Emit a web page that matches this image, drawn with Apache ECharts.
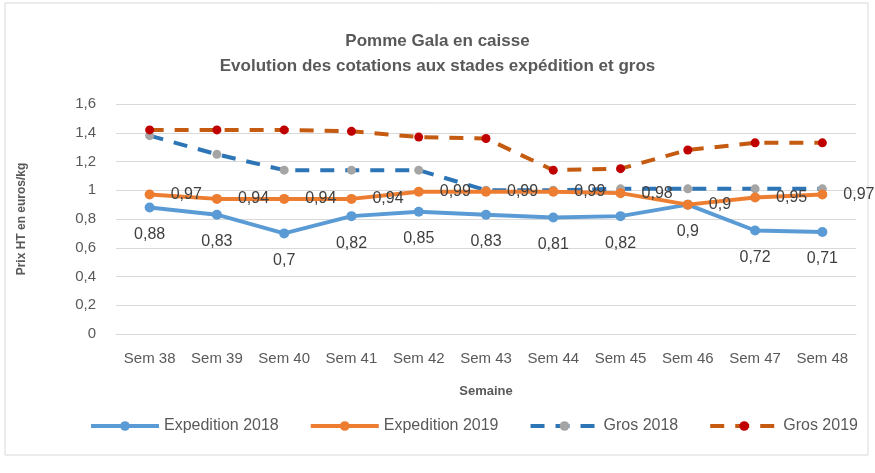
<!doctype html>
<html lang="fr">
<head>
  <meta charset="UTF-8">
  <title>Pomme Gala en caisse</title>
  <script src="https://cdn.jsdelivr.net/npm/echarts@6/dist/echarts.min.js"></script>
  <style>
    html, body { margin: 0; padding: 0; background: #fff; }
    #chart { width: 875px; height: 473px; }
  </style>
</head>
<body>
<div id="chart"></div>
<script>
  var semaines = ['Sem 38', 'Sem 39', 'Sem 40', 'Sem 41', 'Sem 42', 'Sem 43', 'Sem 44', 'Sem 45', 'Sem 46', 'Sem 47', 'Sem 48'];
  var expedition2018 = [0.88, 0.83, 0.7, 0.82, 0.85, 0.83, 0.81, 0.82, 0.9, 0.72, 0.71];
  var expedition2019 = [0.97, 0.94, 0.94, 0.94, 0.99, 0.99, 0.99, 0.98, 0.9, 0.95, 0.97];
  var gros2018 = [1.38, 1.25, 1.14, 1.14, 1.14, 1.0, 1.0, 1.01, 1.01, 1.01, 1.01];
  var gros2019 = [1.42, 1.42, 1.42, 1.41, 1.37, 1.36, 1.14, 1.15, 1.28, 1.33, 1.33];

  var police = 'Liberation Sans, Arial, sans-serif';

  function virgule(v) {
    return String(v).replace('.', ',');
  }

  var chart = echarts.init(document.getElementById('chart'));
  var option = {
    backgroundColor: '#fff',
    animation: false,
    textStyle: { fontFamily: police },
    graphic: [{
      type: 'rect',
      shape: { x: 5, y: 3, width: 863, height: 452 },
      style: { fill: 'none', stroke: '#d9d9d9', lineWidth: 1 },
      silent: true
    }],
    title: {
      text: 'Pomme Gala en caisse\nEvolution des cotations aux stades expédition et gros',
      left: 'center',
      top: 24,
      textStyle: { fontFamily: police, fontSize: 17, fontWeight: 'bold', color: '#595959', lineHeight: 25 }
    },
    legend: {
      top: 413,
      left: 84,
      itemWidth: 68,
      itemHeight: 12,
      itemGap: 30,
      lineStyle: { width: 4 },
      textStyle: { fontFamily: police, fontSize: 16, color: '#595959' },
      data: ['Expedition 2018', 'Expedition 2019', 'Gros 2018', 'Gros 2019']
    },
    grid: { left: 116, right: 19, top: 104, bottom: 139 },
    xAxis: {
      type: 'category',
      data: semaines,
      name: 'Semaine',
      nameLocation: 'middle',
      nameGap: 51,
      nameTextStyle: { fontFamily: police, fontSize: 13, fontWeight: 'bold', color: '#595959' },
      axisLine: { lineStyle: { color: '#d9d9d9' } },
      axisTick: { show: false },
      axisLabel: { interval: 0, fontSize: 15, color: '#595959', margin: 17 }
    },
    yAxis: {
      type: 'value',
      min: 0,
      max: 1.6,
      interval: 0.2,
      name: 'Prix HT en euros/kg',
      nameLocation: 'middle',
      nameGap: 88,
      nameTextStyle: { fontFamily: police, fontSize: 12, fontWeight: 'bold', color: '#595959' },
      axisLine: { show: false },
      axisTick: { show: false },
      axisLabel: { fontSize: 15, color: '#595959', margin: 20, formatter: function (v) { return virgule(Math.round(v * 10) / 10); } },
      splitLine: { lineStyle: { color: '#d9d9d9', width: 1 } }
    },
    series: [
      {
        name: 'Expedition 2018',
        type: 'line',
        data: expedition2018,
        symbol: 'circle',
        symbolSize: 10,
        lineStyle: { color: '#5B9BD5', width: 4 },
        itemStyle: { color: '#5B9BD5' },
        label: { show: true, position: 'bottom', distance: 14, fontSize: 16, color: '#404040', formatter: function (p) { return virgule(p.value); } },
        z: 3
      },
      {
        name: 'Expedition 2019',
        type: 'line',
        data: expedition2019,
        symbol: 'circle',
        symbolSize: 10,
        lineStyle: { color: '#ED7D31', width: 4 },
        itemStyle: { color: '#ED7D31' },
        label: { show: true, position: 'right', distance: 16, fontSize: 16, color: '#404040', formatter: function (p) { return virgule(p.value); } },
        z: 4
      },
      {
        name: 'Gros 2018',
        type: 'line',
        data: gros2018,
        symbol: 'circle',
        symbolSize: 9,
        lineStyle: { color: '#2E75B6', width: 4, type: [14, 11] },
        itemStyle: { color: '#A5A5A5' },
        z: 2
      },
      {
        name: 'Gros 2019',
        type: 'line',
        data: gros2019,
        symbol: 'circle',
        symbolSize: 9,
        lineStyle: { color: '#C55A11', width: 4, type: [14, 11] },
        itemStyle: { color: '#C00000' },
        z: 2
      }
    ]
  };
  chart.setOption(option);
</script>
</body>
</html>
